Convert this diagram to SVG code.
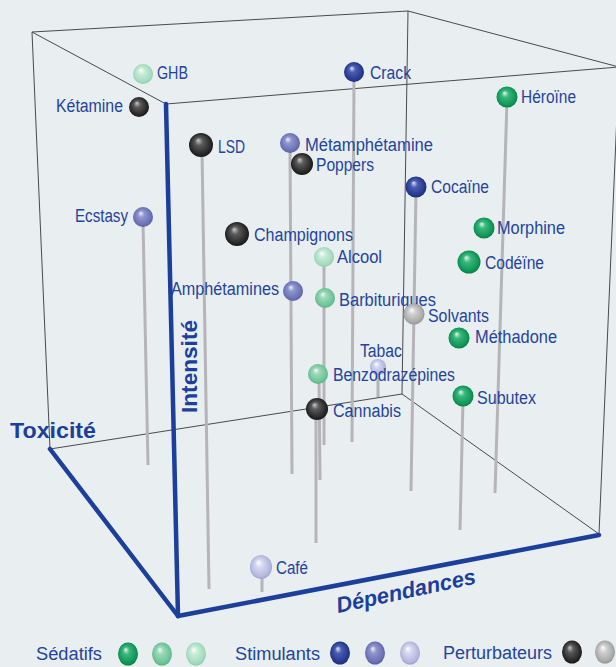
<svg xmlns="http://www.w3.org/2000/svg" width="616" height="667" viewBox="0 0 616 667">
<defs>
<style>
.edge{stroke:#4a4a4a;stroke-width:1;fill:none}
.axis{stroke:#1b3f9a;stroke-width:4.5;fill:none;stroke-linecap:round}
.stem{stroke:#b5b5b7;stroke-width:3;fill:none}
.lbl{font-family:"Liberation Sans",Arial,sans-serif;font-size:18px;fill:#24449c}
.ax{font-family:"Liberation Sans",Arial,sans-serif;font-size:22px;font-weight:bold;fill:#1b3f9a}
</style>
<radialGradient id="gG1" cx="0.5" cy="0.5" r="0.55" fx="0.38" fy="0.3"><stop offset="0" stop-color="#e6f7ee"/><stop offset="0.3" stop-color="#3cb77c"/><stop offset="0.8" stop-color="#0c9756"/><stop offset="1" stop-color="#08703f"/></radialGradient>
<radialGradient id="gG2" cx="0.5" cy="0.5" r="0.55" fx="0.38" fy="0.3"><stop offset="0" stop-color="#f0fbf5"/><stop offset="0.3" stop-color="#9bd8b8"/><stop offset="0.8" stop-color="#6cc496"/><stop offset="1" stop-color="#4fa87a"/></radialGradient>
<radialGradient id="gG3" cx="0.5" cy="0.5" r="0.55" fx="0.38" fy="0.3"><stop offset="0" stop-color="#ffffff"/><stop offset="0.3" stop-color="#c9ecd9"/><stop offset="0.8" stop-color="#a3dbbd"/><stop offset="1" stop-color="#86c4a2"/></radialGradient>
<radialGradient id="gB1" cx="0.5" cy="0.5" r="0.55" fx="0.38" fy="0.3"><stop offset="0" stop-color="#dfe3f5"/><stop offset="0.3" stop-color="#4a5db0"/><stop offset="0.8" stop-color="#24398f"/><stop offset="1" stop-color="#172a70"/></radialGradient>
<radialGradient id="gB2" cx="0.5" cy="0.5" r="0.55" fx="0.38" fy="0.3"><stop offset="0" stop-color="#eef0fa"/><stop offset="0.3" stop-color="#8f95cc"/><stop offset="0.8" stop-color="#6a70b5"/><stop offset="1" stop-color="#4f5598"/></radialGradient>
<radialGradient id="gB3" cx="0.5" cy="0.5" r="0.55" fx="0.38" fy="0.3"><stop offset="0" stop-color="#ffffff"/><stop offset="0.3" stop-color="#d6d8f0"/><stop offset="0.8" stop-color="#b4b7de"/><stop offset="1" stop-color="#9396c6"/></radialGradient>
<radialGradient id="gK" cx="0.5" cy="0.5" r="0.55" fx="0.38" fy="0.3"><stop offset="0" stop-color="#c8c8c8"/><stop offset="0.3" stop-color="#5a5a5a"/><stop offset="0.8" stop-color="#262626"/><stop offset="1" stop-color="#111111"/></radialGradient>
<radialGradient id="gY" cx="0.5" cy="0.5" r="0.55" fx="0.38" fy="0.3"><stop offset="0" stop-color="#ffffff"/><stop offset="0.3" stop-color="#d0d0d0"/><stop offset="0.8" stop-color="#a9a9a9"/><stop offset="1" stop-color="#8a8a8a"/></radialGradient>
</defs>
<rect x="0" y="0" width="616" height="667" fill="#e9eef1"/>

<g id="box">
<line class="edge" x1="32" y1="32" x2="408" y2="11"/>
<line class="edge" x1="32" y1="32" x2="166" y2="104"/>
<line class="edge" x1="408" y1="11" x2="619" y2="67"/>
<line class="edge" x1="166" y1="104" x2="619" y2="67"/>
<line class="edge" x1="32" y1="32" x2="50" y2="449"/>
<line class="edge" x1="408" y1="11" x2="402" y2="394"/>
<line class="edge" x1="50" y1="449" x2="402" y2="394"/>
<line class="edge" x1="402" y1="394" x2="599" y2="534"/>
<line class="edge" x1="619" y1="67" x2="599" y2="534"/>
</g>

<g id="connectors">
<line class="stem" x1="143" y1="222" x2="148" y2="465"/>
<line class="stem" x1="202" y1="150" x2="209" y2="589"/>
<line class="stem" x1="290" y1="145" x2="292" y2="474"/>
<line class="stem" x1="354" y1="75" x2="352" y2="442"/>
<line class="stem" x1="507" y1="100" x2="495" y2="493"/>
<line class="stem" x1="416" y1="190" x2="411" y2="491"/>
<line class="stem" x1="324" y1="260" x2="324" y2="445"/>
<line class="stem" x1="319" y1="378" x2="320" y2="480"/>
<line class="stem" x1="316" y1="412" x2="316" y2="543"/>
<line class="stem" x1="378" y1="370" x2="378" y2="397"/>
<line class="stem" x1="463" y1="400" x2="460" y2="530"/>
<line class="stem" x1="262" y1="570" x2="262" y2="592"/>
</g>

<g id="n-ghb"><circle cx="143" cy="74" r="10" fill="url(#gG3)"/><text class="lbl" x="157" y="79" textLength="31" lengthAdjust="spacingAndGlyphs">GHB</text></g>
<g id="n-ketamine"><circle cx="139" cy="107" r="10" fill="url(#gK)"/><text class="lbl" x="56" y="112" textLength="67" lengthAdjust="spacingAndGlyphs">Kétamine</text></g>
<g id="n-crack"><circle cx="354" cy="72" r="10" fill="url(#gB1)"/><text class="lbl" x="370" y="79" textLength="41" lengthAdjust="spacingAndGlyphs">Crack</text></g>
<g id="n-heroine"><circle cx="507" cy="97" r="10.5" fill="url(#gG1)"/><text class="lbl" x="521" y="103" textLength="55" lengthAdjust="spacingAndGlyphs">Héroïne</text></g>
<g id="n-lsd"><circle cx="201" cy="145" r="12" fill="url(#gK)"/><text class="lbl" x="218" y="153" textLength="27" lengthAdjust="spacingAndGlyphs">LSD</text></g>
<g id="n-metamphetamine"><circle cx="290" cy="143" r="10" fill="url(#gB2)"/><text class="lbl" x="305" y="151" textLength="128" lengthAdjust="spacingAndGlyphs">Métamphétamine</text></g>
<g id="n-poppers"><circle cx="302" cy="164" r="11" fill="url(#gK)"/><text class="lbl" x="316" y="171" textLength="58" lengthAdjust="spacingAndGlyphs">Poppers</text></g>
<g id="n-cocaine"><circle cx="416" cy="187" r="10.5" fill="url(#gB1)"/><text class="lbl" x="431" y="193" textLength="58" lengthAdjust="spacingAndGlyphs">Cocaïne</text></g>
<g id="n-ecstasy"><circle cx="143" cy="217" r="10" fill="url(#gB2)"/><text class="lbl" x="75" y="222" textLength="53" lengthAdjust="spacingAndGlyphs">Ecstasy</text></g>
<g id="n-champignons"><circle cx="237" cy="234" r="12" fill="url(#gK)"/><text class="lbl" x="254" y="241" textLength="99" lengthAdjust="spacingAndGlyphs">Champignons</text></g>
<g id="n-morphine"><circle cx="484" cy="228" r="10.5" fill="url(#gG1)"/><text class="lbl" x="497" y="234" textLength="68" lengthAdjust="spacingAndGlyphs">Morphine</text></g>
<g id="n-codeine"><circle cx="469" cy="262" r="11.5" fill="url(#gG1)"/><text class="lbl" x="485" y="269" textLength="59" lengthAdjust="spacingAndGlyphs">Codéïne</text></g>
<g id="n-alcool"><circle cx="324" cy="257" r="10" fill="url(#gG3)"/><text class="lbl" x="337" y="263" textLength="45" lengthAdjust="spacingAndGlyphs">Alcool</text></g>
<g id="n-amphetamines"><circle cx="293" cy="291" r="10" fill="url(#gB2)"/><text class="lbl" x="171" y="295" textLength="108" lengthAdjust="spacingAndGlyphs">Amphétamines</text></g>
<g id="n-barbituriques"><circle cx="325" cy="298" r="10" fill="url(#gG2)"/><text class="lbl" x="339" y="306" textLength="97" lengthAdjust="spacingAndGlyphs">Barbituriques</text></g>
<g id="n-solvants"><circle cx="414" cy="314" r="10.5" fill="url(#gY)"/><text class="lbl" x="428" y="322" textLength="61" lengthAdjust="spacingAndGlyphs">Solvants</text></g>
<g id="n-methadone"><circle cx="459" cy="338" r="10.5" fill="url(#gG1)"/><text class="lbl" x="475" y="343" textLength="82" lengthAdjust="spacingAndGlyphs">Méthadone</text></g>
<g id="n-tabac"><circle cx="378" cy="367" r="8" fill="url(#gB3)"/><text class="lbl" x="360" y="357" textLength="42" lengthAdjust="spacingAndGlyphs">Tabac</text></g>
<g id="n-benzodrazepines"><circle cx="318" cy="374" r="10" fill="url(#gG2)"/><text class="lbl" x="333" y="381" textLength="122" lengthAdjust="spacingAndGlyphs">Benzodrazépines</text></g>
<g id="n-subutex"><circle cx="463" cy="396" r="10.5" fill="url(#gG1)"/><text class="lbl" x="477" y="404" textLength="59" lengthAdjust="spacingAndGlyphs">Subutex</text></g>
<g id="n-cannabis"><circle cx="317" cy="409" r="11" fill="url(#gK)"/><text class="lbl" x="333" y="417" textLength="68" lengthAdjust="spacingAndGlyphs">Cannabis</text></g>
<g id="n-cafe"><ellipse cx="261" cy="567" rx="11" ry="12" fill="url(#gB3)"/><text class="lbl" x="276" y="574" textLength="32" lengthAdjust="spacingAndGlyphs">Café</text></g>

<g id="axes">
<line class="axis" x1="166" y1="104" x2="178" y2="616"/>
<line class="axis" x1="50" y1="449" x2="178" y2="616"/>
<line class="axis" x1="178" y1="616" x2="599" y2="535"/>
<text class="ax" x="10" y="438" textLength="86" lengthAdjust="spacingAndGlyphs">Toxicité</text>
<text class="ax" transform="translate(197,413) rotate(-90)" x="0" y="0" textLength="93" lengthAdjust="spacingAndGlyphs">Intensité</text>
<text class="ax" font-style="italic" transform="translate(338,613) rotate(-12)" x="0" y="0" textLength="142" lengthAdjust="spacingAndGlyphs">Dépendances</text>
</g>

<g id="legend">
<text class="lbl" x="36" y="660" textLength="66" lengthAdjust="spacingAndGlyphs">Sédatifs</text>
<ellipse cx="128" cy="654" rx="10" ry="11.5" fill="url(#gG1)"/>
<ellipse cx="162" cy="654" rx="10" ry="11.5" fill="url(#gG2)"/>
<ellipse cx="196" cy="654" rx="10" ry="11.5" fill="url(#gG3)"/>
<text class="lbl" x="235" y="660" textLength="85" lengthAdjust="spacingAndGlyphs">Stimulants</text>
<ellipse cx="340" cy="653" rx="10" ry="11.5" fill="url(#gB1)"/>
<ellipse cx="375" cy="653" rx="10" ry="11.5" fill="url(#gB2)"/>
<ellipse cx="410" cy="653" rx="10" ry="11.5" fill="url(#gB3)"/>
<text class="lbl" x="443" y="659" textLength="109" lengthAdjust="spacingAndGlyphs">Perturbateurs</text>
<ellipse cx="572" cy="652" rx="10" ry="11.5" fill="url(#gK)"/>
<ellipse cx="605" cy="652" rx="10" ry="11.5" fill="url(#gY)"/>
</g>
</svg>
